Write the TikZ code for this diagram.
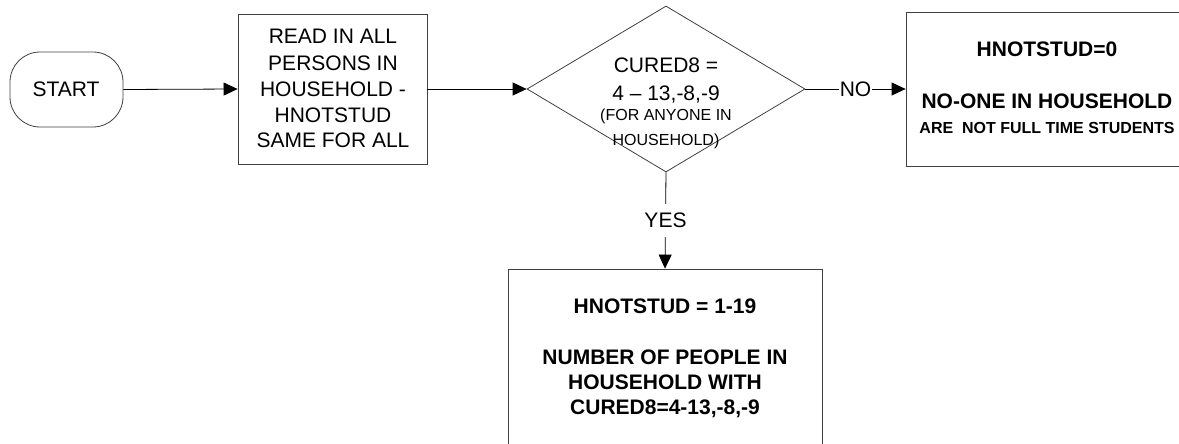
\documentclass[tikz,border=0pt]{standalone}
\usepackage{fontspec}
\setmainfont{Liberation Sans}
\usetikzlibrary{arrows.meta,shapes.geometric}
\begin{document}
\begin{tikzpicture}[x=1pt,y=-1pt,
  outline/.style={draw=black!75,line width=0.8pt,inner sep=0pt},
  conn/.style={draw=black,line width=0.8pt,-{Triangle[length=14pt,width=13pt]}},
  big/.style={font=\fontsize{21}{25}\selectfont,anchor=base,inner sep=0pt},
  bigb/.style={font=\fontsize{21}{25}\selectfont\bfseries,anchor=base,inner sep=0pt},
  small/.style={font=\fontsize{16}{19}\selectfont,anchor=base,inner sep=0pt},
  smallb/.style={font=\fontsize{16}{19}\selectfont\bfseries,anchor=base,inner sep=0pt},
  lbl/.style={font=\fontsize{21}{25}\selectfont,fill=white,inner xsep=1pt,inner ysep=9pt}]
\useasboundingbox (0,0) rectangle (1179,444);
\clip (0,0) rectangle (1179,444);
% shapes
\node[outline,rectangle,rounded corners=30pt,minimum width=113pt,minimum height=75pt] (start) at (66.5,89.5) {};
\node[outline,rectangle,minimum width=189pt,minimum height=150pt] (read) at (332.5,89) {};
\node[outline,diamond,minimum width=278pt,minimum height=166pt] (dia) at (666,89) {};
\node[outline,rectangle,minimum width=294pt,minimum height=154pt] (rb) at (1053,89) {};
\node[outline,rectangle,minimum width=314pt,minimum height=201pt] (bb) at (665,369.5) {};
% texts
\node[big] (ts) at (66,96) {START};
\node[big] (r1) at (333,44) {READ IN ALL};
\node[big] (r2) at (333,70.5) {PERSONS IN};
\node[big] (r3) at (333,96.5) {HOUSEHOLD -};
\node[big] (r4) at (333,122) {HNOTSTUD};
\node[big] (r5) at (333,147) {SAME FOR ALL};
\node[big] (d1) at (666,73) {CURED8 =};
\node[big] (d2) at (666,100) {4 – 13,-8,-9};
\node[small] (d3) at (666,121) {(FOR ANYONE IN};
\node[small] (d4) at (666,145) {HOUSEHOLD)};
\node[bigb] (n1) at (1047,57) {HNOTSTUD=0};
\node[bigb] (n2) at (1047,108) {NO-ONE IN HOUSEHOLD};
\node[smallb] (n3) at (1047,133) {ARE\ \ NOT FULL TIME STUDENTS};
\node[bigb] (y1) at (665,313) {HNOTSTUD = 1-19};
\node[bigb] (y2) at (665,364) {NUMBER OF PEOPLE IN};
\node[bigb] (y3) at (665,389) {HOUSEHOLD WITH};
\node[bigb] (y4) at (665,414) {CURED8=4-13,-8,-9};
% connectors
\draw[conn] (start.east) -- (read.west);
\draw[conn] (read.east) -- (dia.west);
\draw[conn] (dia.east) -- node[lbl] {NO} (rb.west);
\draw[conn] (dia.south) -- node[lbl,inner ysep=9pt] {YES} (bb.north);
\end{tikzpicture}
\end{document}
